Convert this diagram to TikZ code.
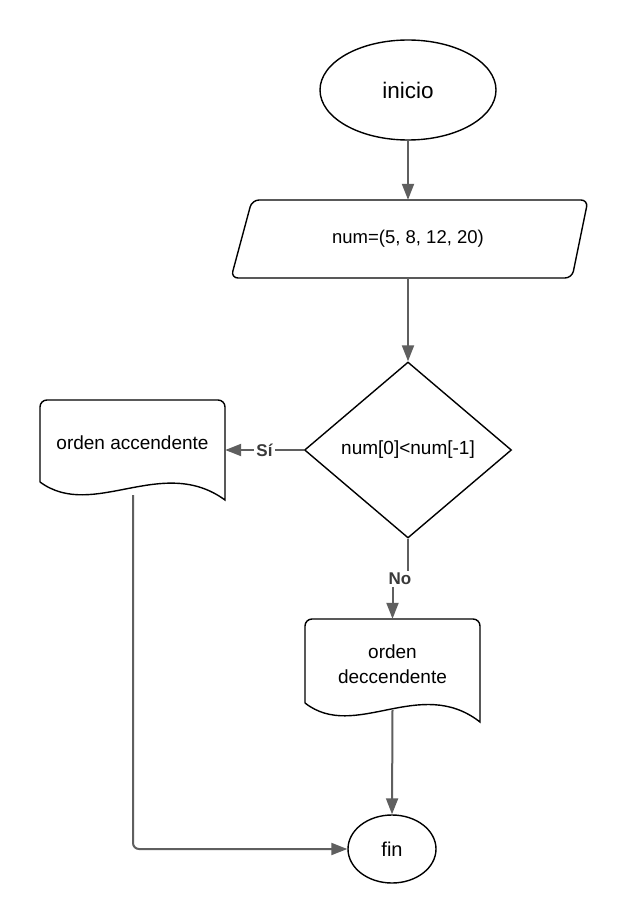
\documentclass[tikz,border=0pt]{standalone}
\usepackage{fontspec}
\setmainfont{Liberation Sans}
\usetikzlibrary{shapes.geometric,arrows.meta,calc}
\definecolor{edgegray}{HTML}{5F5F5F}
\definecolor{labelgray}{HTML}{3A3A3A}
\begin{document}
\begin{tikzpicture}[x=1pt,y=-1pt,
  outline/.style={draw=black,line width=1.4pt},
  flow/.style={draw=edgegray,line width=2pt,-{Triangle[length=16pt,width=12pt]}},
  txt/.style={font=\fontsize{19}{25}\selectfont},
  lbl/.style={font=\bfseries\fontsize{17}{19}\selectfont,text=labelgray,fill=white,inner sep=2pt},
  textbox/.style={inner sep=0pt,align=center,txt}]
\useasboundingbox[fill=white] (0,0) rectangle (630,923);

% start
\node[ellipse,outline,minimum width=176pt,minimum height=100pt,
      font=\fontsize{22.5}{26}\selectfont] (inicio) at (408,90) {inicio};

% input parallelogram
\draw[outline,rounded corners=7pt] (252,200) -- (588,200) -- (572,278) -- (231,278) -- cycle;
\node[inner sep=0pt,font=\fontsize{18.5}{22}\selectfont,minimum width=300pt,minimum height=78pt]
  (datos) at (408,239) {num=(5, 8, 12, 20)};

% decision
\node[diamond,outline,minimum width=207pt,minimum height=176pt,inner sep=0pt,txt]
  (cond) at (408,450) {num[0]<num[-1]};

% document: ascending
\draw[outline,rounded corners=7pt] (40,482) -- (40,400) -- (225,400)
  [sharp corners] -- (225,500) .. controls (162,454) and (93,521) .. (40,482);
\node[textbox,minimum width=185pt,minimum height=86pt] (asc) at (132.5,443) {orden accendente};
\coordinate (ascout) at (133,495);

% document: descending
\draw[outline,rounded corners=7pt] (305,703) -- (305,619) -- (480,619)
  [sharp corners] -- (480,722) .. controls (420,675) and (355,742) .. (305,703);
\node[textbox,minimum width=175pt,minimum height=91pt] (desc) at (392.5,664.5) {orden\\deccendente};
\coordinate (descout) at (392.5,710);

% end
\node[ellipse,outline,minimum width=88pt,minimum height=68pt,
      font=\fontsize{20}{24}\selectfont] (fin) at (392,849) {fin};

% connectors
\draw[flow] (inicio.south) -- (datos.north);
\draw[flow] (datos.south) -- (cond.north);
\draw[flow] (cond.west) -- node[lbl] {Sí} (asc.east |- cond.west);
\draw[flow] (cond.south) -- ++(0,40) coordinate (jog) -| (desc.north);
\node[lbl] at ($(jog)+(-8,0)$) {No};
\draw[flow] (descout) -- (fin.north);
\draw[flow,rounded corners=6pt] (ascout) |- (fin.west);
\end{tikzpicture}
\end{document}
